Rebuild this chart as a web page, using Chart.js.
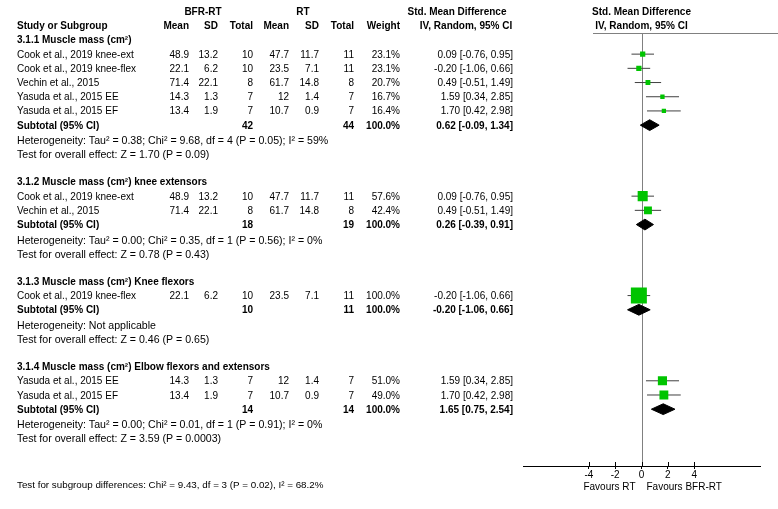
<!DOCTYPE html>
<html>
<head>
<meta charset="utf-8">
<script src="https://cdn.jsdelivr.net/npm/chart.js@4"></script>
<style>
  body { margin: 0; background: #fff; }
</style>
</head>
<body>
<canvas id="forest" width="778" height="509"></canvas>
<script>
// subgroup / study data
const subgroupTitles = [
  "3.1.1 Muscle mass (cm²)",
  "3.1.2 Muscle mass (cm²) knee extensors",
  "3.1.3 Muscle mass (cm²) Knee flexors",
  "3.1.4 Muscle mass (cm²) Elbow flexors and extensors"
];
const studyNames = [
  ["Cook et al., 2019 knee-ext", "Cook et al., 2019 knee-flex", "Vechin et al., 2015", "Yasuda et al., 2015 EE", "Yasuda et al., 2015 EF"],
  ["Cook et al., 2019 knee-ext", "Vechin et al., 2015"],
  ["Cook et al., 2019 knee-flex"],
  ["Yasuda et al., 2015 EE", "Yasuda et al., 2015 EF"]
];
const bfrMean = [[48.9, 22.1, 71.4, 14.3, 13.4], [48.9, 71.4], [22.1], [14.3, 13.4]];
const bfrSD = [[13.2, 6.2, 22.1, 1.3, 1.9], [13.2, 22.1], [6.2], [1.3, 1.9]];
const bfrTotal = [[10, 10, 8, 7, 7], [10, 8], [10], [7, 7]];
const rtMean = [[47.7, 23.5, 61.7, 12, 10.7], [47.7, 61.7], [23.5], [12, 10.7]];
const rtSD = [[11.7, 7.1, 14.8, 1.4, 0.9], [11.7, 14.8], [7.1], [1.4, 0.9]];
const rtTotal = [[11, 11, 8, 7, 7], [11, 8], [11], [7, 7]];
const weights = [[23.1, 23.1, 20.7, 16.7, 16.4], [57.6, 42.4], [100.0], [51.0, 49.0]];
const smd = [[0.09, -0.20, 0.49, 1.59, 1.70], [0.09, 0.49], [-0.20], [1.59, 1.70]];
const ciLow = [[-0.76, -1.06, -0.51, 0.34, 0.42], [-0.76, -0.51], [-1.06], [0.34, 0.42]];
const ciHigh = [[0.95, 0.66, 1.49, 2.85, 2.98], [0.95, 1.49], [0.66], [2.85, 2.98]];

const subBfrTotal = [42, 18, 10, 14];
const subRtTotal = [44, 19, 11, 14];
const subSmd = [0.62, 0.26, -0.20, 1.65];
const subLow = [-0.09, -0.39, -1.06, 0.75];
const subHigh = [1.34, 0.91, 0.66, 2.54];
const heterogeneity = [
  "Heterogeneity: Tau² = 0.38; Chi² = 9.68, df = 4 (P = 0.05); I² = 59%",
  "Heterogeneity: Tau² = 0.00; Chi² = 0.35, df = 1 (P = 0.56); I² = 0%",
  "Heterogeneity: Not applicable",
  "Heterogeneity: Tau² = 0.00; Chi² = 0.01, df = 1 (P = 0.91); I² = 0%"
];
const overallEffect = [
  "Test for overall effect: Z = 1.70 (P = 0.09)",
  "Test for overall effect: Z = 0.78 (P = 0.43)",
  "Test for overall effect: Z = 0.46 (P = 0.65)",
  "Test for overall effect: Z = 3.59 (P = 0.0003)"
];
const subgroupTest = "Test for subgroup differences: Chi² = 9.43, df = 3 (P = 0.02), I² = 68.2%";
const xTicks = [-4, -2, 0, 2, 4];

const FONT = "'Liberation Sans', Arial, sans-serif";
const green = "#00c400";

// work out which row each line of the table sits on
let row = 1;
const lines = [];
const studyRows = [];
const subRows = [];
subgroupTitles.forEach((title, g) => {
  lines.push({ row: row++, kind: "title", g });
  studyRows.push([]);
  studyNames[g].forEach((n, i) => {
    studyRows[g].push(row);
    lines.push({ row: row++, kind: "study", g, i });
  });
  subRows.push(row);
  lines.push({ row: row++, kind: "sub", g });
  lines.push({ row: row++ + 0.08, kind: "het", g });
  lines.push({ row: row++ + 0.08, kind: "test", g });
  row++;
});
const axisRow = row;

function ci(v, lo, hi) {
  return v.toFixed(2) + " [" + lo.toFixed(2) + ", " + hi.toFixed(2) + "]";
}

const datasets = [];
const squarePts = [];
const squareR = [];
smd.forEach((arr, g) => {
  arr.forEach((v, i) => {
    const r = studyRows[g][i];
    datasets.push({
      data: [{ x: ciLow[g][i], y: r }, { x: ciHigh[g][i], y: r }],
      borderColor: "#404040", borderWidth: 1, pointRadius: 0, order: 3
    });
    squarePts.push({ x: v, y: r });
    squareR.push((2 + 14 * weights[g][i] / 100) / Math.SQRT2);
  });
});
datasets.push({
  data: squarePts, showLine: false, pointStyle: "rect",
  pointRadius: squareR, pointBackgroundColor: green, pointBorderWidth: 0, order: 1
});
subSmd.forEach((v, g) => {
  const r = subRows[g];
  const h = 0.38;
  datasets.push({
    data: [{ x: subLow[g], y: r }, { x: v, y: r - h }, { x: subHigh[g], y: r }, { x: v, y: r + h }, { x: subLow[g], y: r }],
    borderColor: "#000", backgroundColor: "#000", borderWidth: 1,
    pointRadius: 0, fill: "shape", tension: 0, order: 2
  });
});

const tablePlugin = {
  id: "table",
  beforeDatasetsDraw(chart) {
    const ctx = chart.ctx;
    const x = chart.scales.x, y = chart.scales.y;
    const x0 = x.getPixelForValue(0);
    ctx.save();
    ctx.strokeStyle = "#808080";
    ctx.lineWidth = 1;
    const ruleY = Math.round(y.getPixelForValue(0.48)) + 0.5;
    ctx.beginPath();
    ctx.moveTo(593, ruleY); ctx.lineTo(778, ruleY);
    ctx.moveTo(Math.round(x0) + 0.5, ruleY);
    ctx.lineTo(Math.round(x0) + 0.5, chart.chartArea.bottom);
    ctx.stroke();
    ctx.strokeStyle = "#000";
    ctx.beginPath();
    xTicks.forEach(t => {
      const px = Math.round(x.getPixelForValue(t)) + 0.5;
      ctx.moveTo(px, chart.chartArea.bottom - 4);
      ctx.lineTo(px, chart.chartArea.bottom);
    });
    ctx.stroke();
    ctx.restore();
  },
  afterDraw(chart) {
    const ctx = chart.ctx;
    const x = chart.scales.x, y = chart.scales.y;
    const x0 = x.getPixelForValue(0);
    ctx.save();
    ctx.fillStyle = "#000";
    ctx.textBaseline = "middle";
    const putPx = (txt, px, py, align, bold, size) => {
      ctx.font = (bold ? "bold " : "") + (size || 10) + "px " + FONT;
      ctx.textAlign = align;
      ctx.fillText(txt, px, py);
    };
    // small nudge so the glyphs sit on the row centre like the original
    const put = (txt, px, r, align, bold, size) => putPx(txt, px, y.getPixelForValue(r) + 0.8, align, bold, size);

    put("BFR-RT", 203, -1, "center", true);
    put("RT", 303, -1, "center", true);
    put("Std. Mean Difference", 457, -1, "center", true);
    put("Std. Mean Difference", x0, -1, "center", true);
    put("Study or Subgroup", 17, 0, "left", true);
    put("Mean", 189, 0, "right", true);
    put("SD", 218, 0, "right", true);
    put("Total", 253, 0, "right", true);
    put("Mean", 289, 0, "right", true);
    put("SD", 319, 0, "right", true);
    put("Total", 354, 0, "right", true);
    put("Weight", 400, 0, "right", true);
    put("IV, Random, 95% CI", 466, 0, "center", true);
    put("IV, Random, 95% CI", x0, 0, "center", true);

    lines.forEach(l => {
      const g = l.g, i = l.i;
      if (l.kind === "title") put(subgroupTitles[g], 17, l.row, "left", true);
      if (l.kind === "study") {
        put(studyNames[g][i], 17, l.row, "left");
        put(String(bfrMean[g][i]), 189, l.row, "right");
        put(String(bfrSD[g][i]), 218, l.row, "right");
        put(String(bfrTotal[g][i]), 253, l.row, "right");
        put(String(rtMean[g][i]), 289, l.row, "right");
        put(String(rtSD[g][i]), 319, l.row, "right");
        put(String(rtTotal[g][i]), 354, l.row, "right");
        put(weights[g][i].toFixed(1) + "%", 400, l.row, "right");
        put(ci(smd[g][i], ciLow[g][i], ciHigh[g][i]), 513, l.row, "right");
      }
      if (l.kind === "sub") {
        put("Subtotal (95% CI)", 17, l.row, "left", true);
        put(String(subBfrTotal[g]), 253, l.row, "right", true);
        put(String(subRtTotal[g]), 354, l.row, "right", true);
        put("100.0%", 400, l.row, "right", true);
        put(ci(subSmd[g], subLow[g], subHigh[g]), 513, l.row, "right", true);
      }
      if (l.kind === "het") put(heterogeneity[g], 17, l.row, "left", false, 10.6);
      if (l.kind === "test") put(overallEffect[g], 17, l.row, "left", false, 10.6);
    });

    const bottom = chart.chartArea.bottom;
    putPx(subgroupTest, 17, bottom + 19, "left", false, 9.8);
    putPx("Favours RT", x0 - 6, bottom + 21, "right");
    putPx("Favours BFR-RT", x0 + 5, bottom + 21, "left");
    ctx.restore();
  }
};

new Chart(document.getElementById("forest"), {
  type: "line",
  data: { datasets: datasets },
  options: {
    responsive: false,
    animation: false,
    events: [],
    layout: { padding: { left: 523, right: 18, top: 0, bottom: 0 } },
    plugins: { legend: { display: false }, tooltip: { enabled: false } },
    scales: {
      x: {
        type: "linear",
        min: -9,
        max: 9,
        afterBuildTicks: s => { s.ticks = xTicks.map(v => ({ value: v })); },
        afterFit: s => { s.height = 43; },
        grid: { drawOnChartArea: false, drawTicks: true, tickLength: 3, tickColor: "#000" },
        border: { display: true, color: "#000", width: 1 },
        ticks: { color: "#000", font: { family: FONT, size: 10 }, padding: 0, maxRotation: 0, autoSkip: false }
      },
      y: {
        type: "linear",
        display: false,
        reverse: true,
        min: -1.37,
        max: axisRow
      }
    }
  },
  plugins: [tablePlugin]
});
</script>
</body>
</html>
